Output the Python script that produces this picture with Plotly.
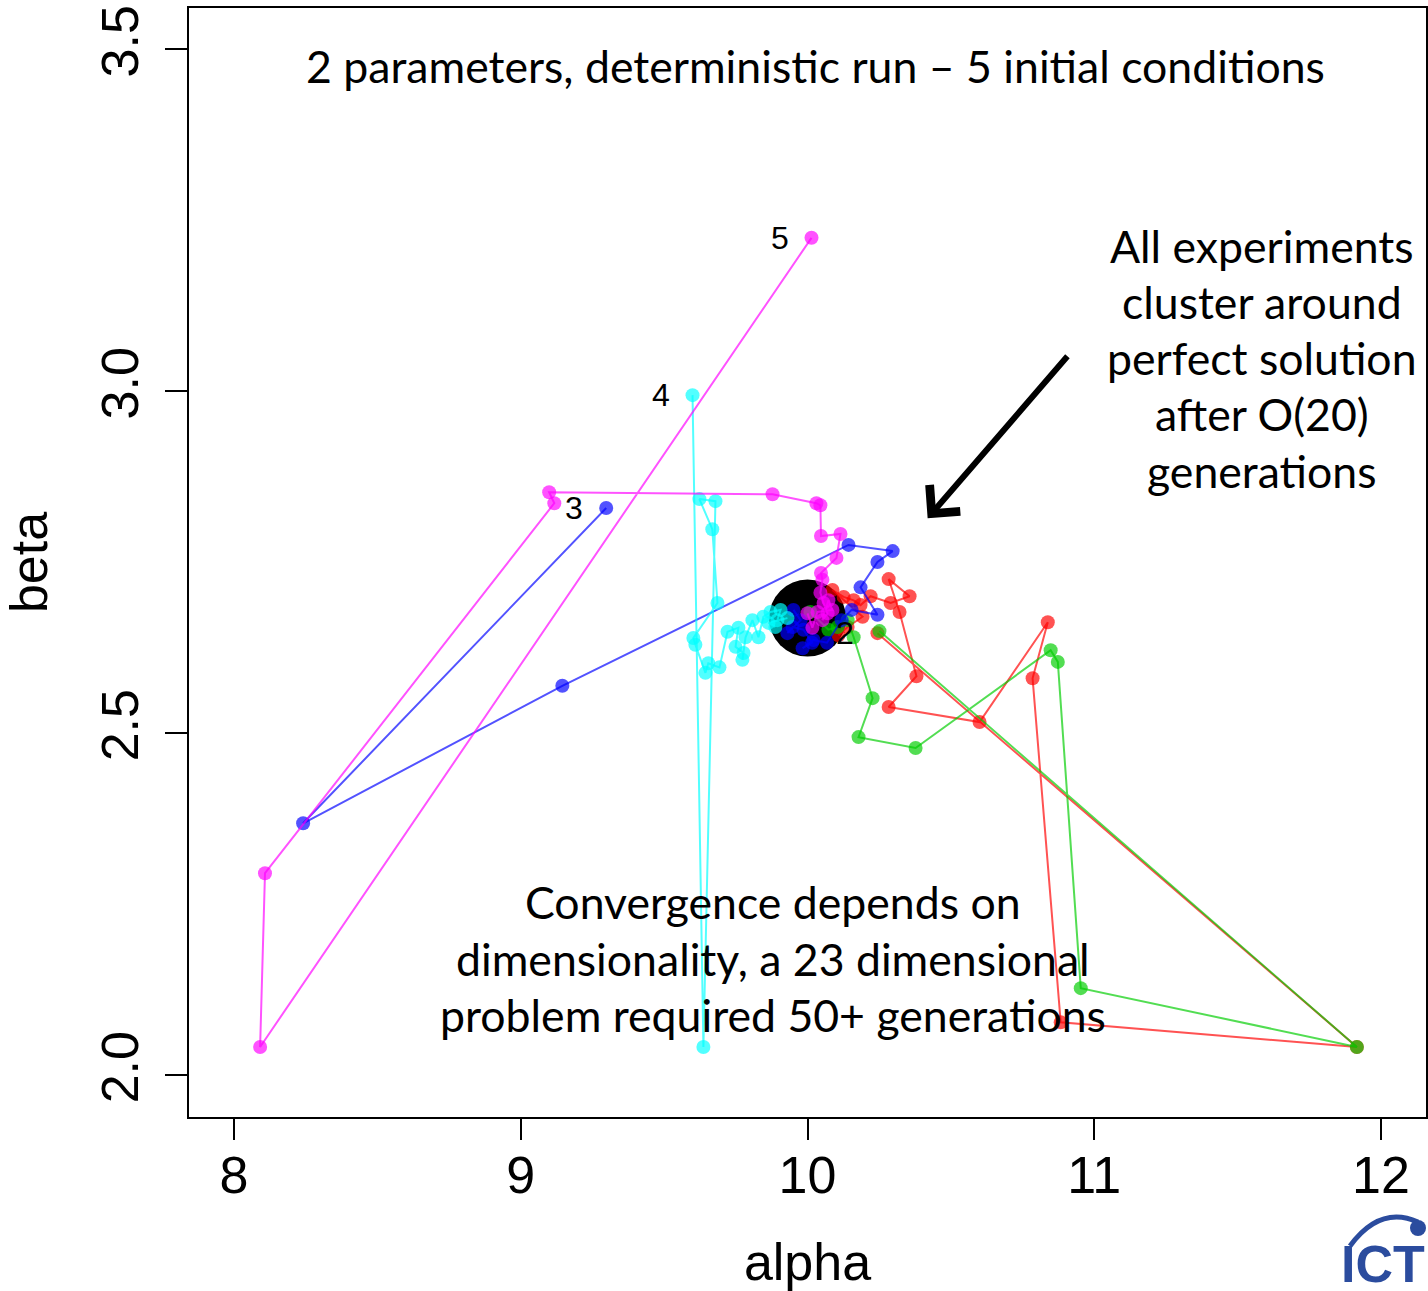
import plotly.graph_objects as go

# ---- data ----
target_alpha = [10.0]
target_beta = [2.668]

red_alpha = [10.244, 11.916, 10.883, 10.785, 10.838, 10.600, 10.283, 10.380, 10.321, 10.283,
             10.356, 10.290, 10.220, 10.185, 10.161, 10.126, 10.087, 10.192, 10.140, 10.108]
red_beta = [2.646, 2.041, 2.077, 2.580, 2.662, 2.516, 2.538, 2.583, 2.677, 2.725,
            2.700, 2.690, 2.700, 2.687, 2.694, 2.699, 2.709, 2.670, 2.655, 2.643]

green_alpha = [10.251, 11.916, 10.953, 10.873, 10.848, 10.377, 10.178, 10.227, 10.161,
               10.140, 10.105, 10.073, 10.010]
green_beta = [2.649, 2.041, 2.127, 2.604, 2.621, 2.478, 2.494, 2.551, 2.640,
              2.665, 2.655, 2.651, 2.677]

blue_alpha = [9.298, 8.241, 9.145, 10.143, 10.297, 10.244, 10.185, 10.244, 10.154, 10.119,
              10.068, 10.021, 9.983, 10.016, 9.986, 9.948, 9.930, 9.976, 9.951]
blue_beta = [2.829, 2.368, 2.569, 2.775, 2.766, 2.750, 2.713, 2.673, 2.680, 2.665,
             2.632, 2.636, 2.624, 2.632, 2.651, 2.655, 2.646, 2.665, 2.680]

cyan_alpha = [9.599, 9.637, 9.679, 9.623, 9.668, 9.686, 9.602, 9.609, 9.644, 9.654, 9.693,
              9.721, 9.759, 9.749, 9.777, 9.773, 9.784, 9.808, 9.829, 9.846, 9.871,
              9.906, 9.895, 9.930, 9.864, 9.888]
cyan_beta = [2.994, 2.041, 2.839, 2.842, 2.798, 2.690, 2.639, 2.629, 2.588, 2.602, 2.596,
             2.648, 2.654, 2.626, 2.617, 2.607, 2.640, 2.665, 2.640, 2.670, 2.677,
             2.680, 2.665, 2.668, 2.661, 2.655]

magenta_alpha = [10.014, 8.091, 8.108, 9.117, 9.099, 9.878, 10.031, 10.045, 10.047, 10.115,
                 10.101, 10.047, 10.052, 10.045, 10.056, 10.070, 10.052, 10.073, 10.087,
                 10.035, 10.017, 10.000]
magenta_beta = [3.224, 2.041, 2.295, 2.836, 2.852, 2.849, 2.836, 2.833, 2.788, 2.791,
                2.756, 2.734, 2.724, 2.705, 2.690, 2.675, 2.665, 2.694, 2.680,
                2.677, 2.654, 2.675]

start_labels = ["2", "3", "4", "5"]

title_text = "2 parameters, deterministic run \u2013 5 initial conditions"
right_lines = ["All experiments", "cluster around", "perfect solution", "after O(20)", "generations"]
bottom_lines = ["Convergence depends on", "dimensionality, a 23 dimensional",
                "problem required 50+ generations"]

x_ticks = [8, 9, 10, 11, 12]
y_ticks = [2.0, 2.5, 3.0, 3.5]
y_tick_text = ["2.0", "2.5", "3.0", "3.5"]

arrow_tail = (10.911, 3.053)
arrow_tip = (10.419, 2.814)

# ---- figure ----
fig = go.Figure()

fig.add_trace(go.Scatter(x=target_alpha, y=target_beta, mode="markers",
                         marker=dict(size=77, color="black"), showlegend=False))

series = [
    (red_alpha, red_beta, "rgba(255,0,0,0.68)"),
    (green_alpha, green_beta, "rgba(0,205,0,0.68)"),
    (blue_alpha, blue_beta, "rgba(0,0,255,0.68)"),
    (cyan_alpha, cyan_beta, "rgba(0,255,255,0.68)"),
    (magenta_alpha, magenta_beta, "rgba(255,0,255,0.68)"),
]
for xs, ys, col in series:
    fig.add_trace(go.Scatter(x=xs, y=ys, mode="lines+markers",
                             line=dict(color=col, width=2),
                             marker=dict(size=14, color=col),
                             showlegend=False))

label_font = dict(family="Liberation Sans, Arial", size=32, color="black")
for lab, (xs, ys) in zip(start_labels, [(red_alpha, red_beta), (blue_alpha, blue_beta),
                                        (cyan_alpha, cyan_beta), (magenta_alpha, magenta_beta)]):
    fig.add_annotation(x=xs[0], y=ys[0], text=lab, showarrow=False, xshift=-32,
                       font=label_font)

txt_font = dict(family="Lato, Open Sans, sans-serif", size=44.6, color="black")
fig.add_annotation(x=10.028, y=3.476, text=title_text, showarrow=False, font=txt_font)

right_y0 = 3.2135
for i, line in enumerate(right_lines):
    fig.add_annotation(x=11.585, y=right_y0 - i * 0.0823, text=line, showarrow=False, font=txt_font)

bottom_y0 = 2.253
for i, line in enumerate(bottom_lines):
    fig.add_annotation(x=9.881, y=bottom_y0 - i * 0.0826, text=line, showarrow=False, font=txt_font)

fig.add_annotation(x=arrow_tip[0], y=arrow_tip[1], ax=arrow_tail[0], ay=arrow_tail[1],
                   xref="x", yref="y", axref="x", ayref="y", text="",
                   showarrow=True, arrowhead=4, arrowsize=1.3, arrowwidth=6, arrowcolor="black")

# ICTP logo (approximation)
def px(xp):
    return (xp - 189) / 1237
def py(yp):
    return (1117 - yp) / 1109
fig.add_annotation(xref="paper", yref="paper", x=px(1339), y=py(1264),
                   xanchor="left", yanchor="middle", text="<b>ICTP</b>", showarrow=False,
                   font=dict(family="Liberation Sans Narrow, Liberation Sans, Arial", size=52,
                             color="#2b4c9e"))
fig.add_shape(type="path", xref="paper", yref="paper",
              path=f"M {px(1350)},{py(1246)} Q {px(1380)},{py(1205)} {px(1418)},{py(1222)}",
              line=dict(color="#2b4c9e", width=5))
fig.add_shape(type="circle", xref="paper", yref="paper",
              x0=px(1410), x1=px(1426), y0=py(1236), y1=py(1220),
              fillcolor="#2b4c9e", line=dict(color="#2b4c9e", width=0))

axis_font = dict(family="Liberation Sans, Arial", size=52, color="black")
fig.update_xaxes(range=[7.843, 12.157], tickvals=x_ticks, ticktext=[str(t) for t in x_ticks],
                 showgrid=False, zeroline=False, showline=True, mirror=True, automargin=False,
                 linecolor="black", linewidth=2, ticks="outside", ticklen=21, tickwidth=2,
                 tickcolor="black", tickfont=axis_font, ticklabelstandoff=-9,
                 ticklabeloverflow="allow",
                 title=dict(text="alpha", font=axis_font, standoff=50))
fig.update_yaxes(range=[1.9386, 3.560], tickvals=y_ticks, ticktext=y_tick_text,
                 showgrid=False, zeroline=False, showline=True, mirror=True, automargin=False,
                 linecolor="black", linewidth=2, ticks="outside", ticklen=22, tickwidth=2,
                 tickcolor="black", tickfont=axis_font, tickangle=-90, ticklabelstandoff=6,
                 ticklabeloverflow="allow",
                 title=dict(text="beta", font=axis_font, standoff=36))

fig.update_layout(width=1428, height=1291, margin=dict(l=189, r=2, t=8, b=174),
                  plot_bgcolor="white", paper_bgcolor="white", showlegend=False)

fig.write_html("out.html", config={"displayModeBar": False},
               post_script="document.body.style.margin='0';document.body.style.overflow='hidden';")
